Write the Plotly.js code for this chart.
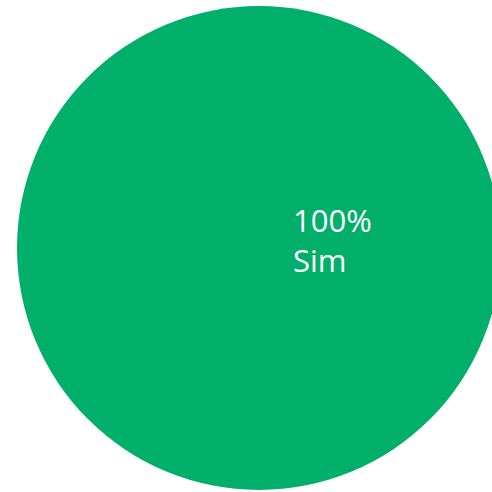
<!DOCTYPE html>
<html>
<head>
<meta charset="utf-8">
<script src="https://cdn.plot.ly/plotly-3.0.1.min.js"></script>
<style>
html,body{margin:0;padding:0;overflow:hidden;background:#fff;width:492px;height:492px;}
#chart{width:501px;height:492px;}
</style>
</head>
<body>
<div id="chart"></div>
<script>
var labels = ["Sim"];
var values = [100];
var colors = ["#00af69"];

var total = values.reduce(function(a, b){ return a + b; }, 0);
var labelText = Math.round(values[0] / total * 100) + '%<br>' + labels[0];

Plotly.newPlot('chart', [{
  type: 'pie',
  labels: labels,
  values: values,
  marker: {colors: colors},
  textinfo: 'none',
  textposition: 'none',
  sort: false,
  hoverinfo: 'none'
}], {
  width: 501,
  height: 492,
  margin: {l: 17, r: 0, t: 6, b: 2},
  showlegend: false,
  paper_bgcolor: '#ffffff',
  annotations: [{
    text: labelText,
    xref: 'paper', yref: 'paper',
    x: 0.566, y: 0.517,
    xanchor: 'left', yanchor: 'middle',
    align: 'left',
    showarrow: false,
    font: {family: 'Open Sans, sans-serif', size: 31, color: '#ffffff'}
  }]
}, {displayModeBar: false, staticPlot: true});
</script>
</body>
</html>
